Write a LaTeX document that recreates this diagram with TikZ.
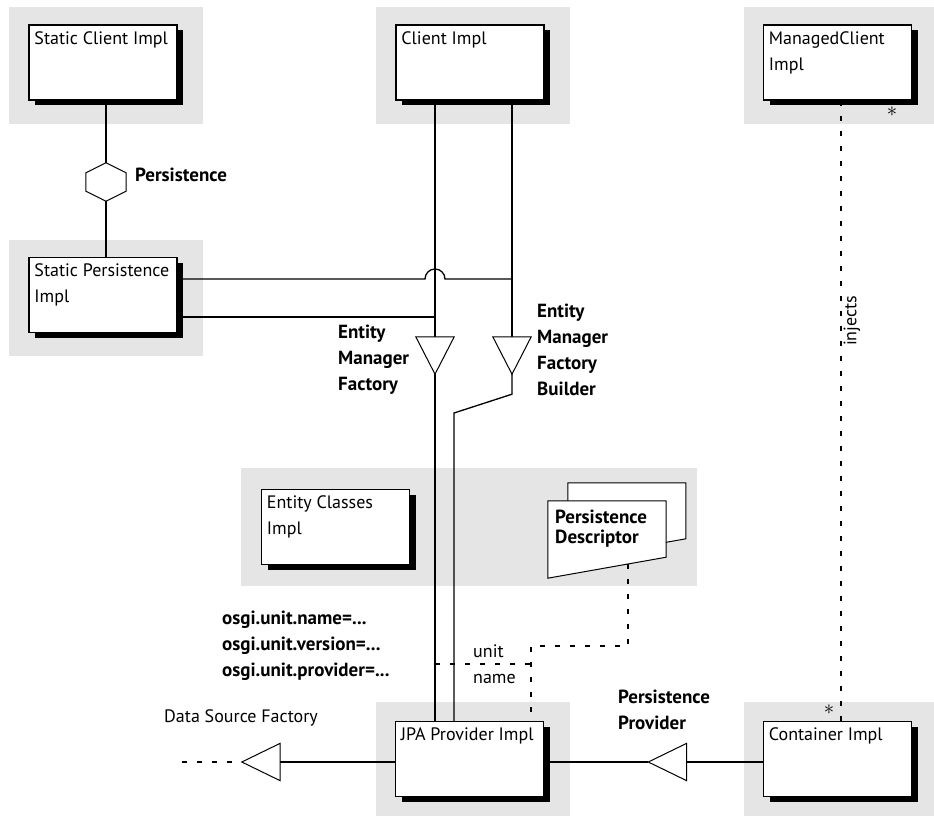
\documentclass[tikz,border=0pt]{standalone}
\usepackage{fontspec}
\setmainfont{PT Sans}
\usepackage{tikz}
\usetikzlibrary{positioning, shadows}

\definecolor{framegray}{RGB}{229,229,229}

\begin{document}
\begin{tikzpicture}[
    x=1pt, y=-1pt,
    every node/.style={font=\fontsize{18}{26}\selectfont},
    comp/.style={rectangle, draw, line width=1.5pt, fill=white,
                minimum width=148pt, minimum height=75pt,
                drop shadow={shadow xshift=6pt, shadow yshift=-5pt, fill=black, opacity=1}},
    ctext/.style={anchor=north west, align=left, inner sep=0pt, xshift=6pt, yshift=-7pt},
    frame/.style={fill=framegray},
    port/.style={rectangle, inner sep=0pt, minimum width=38pt, minimum height=37pt},
    sym/.style={draw, line width=1pt, fill=white},
    wire/.style={line width=1.3pt},
    dep/.style={line width=1.3pt, dash pattern=on 5pt off 10pt},
    lbl/.style={anchor=north west, align=left, inner sep=0pt,
                font=\fontsize{19}{26}\selectfont\bfseries},
    mult/.style={inner sep=0pt, font=\fontsize{20.74}{26}\selectfont}
  ]
  \useasboundingbox (0,0) rectangle (934,816);

  % Gray frames
  \fill[frame] (9,7) rectangle (203,124);
  \fill[frame] (376,7) rectangle (570,124);
  \fill[frame] (744,7) rectangle (934,124);
  \fill[frame] (9,240) rectangle (203,356);
  \fill[frame] (241,468) rectangle (697,586);
  \fill[frame] (376,702) rectangle (570,816);
  \fill[frame] (744,702) rectangle (934,816);

  % Components
  \node[comp, label={[ctext]north west:Static Client Impl}] (sci) at (103,62.5) {};
  \node[comp, label={[ctext]north west:Client Impl}] (ci) at (470,62.5) {};
  \node[comp, label={[ctext]north west:ManagedClient\\Impl}] (mci) at (837.5,62.5) {};
  \node[comp, label={[ctext]north west:Static Persistence\\Impl}] (spi) at (103,295) {};
  \node[comp, label={[ctext]north west:Entity Classes\\Impl}] (eci) at (335.5,527) {};
  \node[comp, label={[ctext]north west:JPA Provider Impl}] (jpa) at (469.5,759) {};
  \node[comp, label={[ctext]north west:Container Impl}] (cont) at (837.5,759) {};

  % Persistence descriptor
  \node[rectangle, inner sep=0pt, minimum width=118pt, minimum height=77pt] (pd) at (607,539.5) {};
  \filldraw[sym] ([xshift=20pt]pd.north west) -- ++(0,-18) -- ++(118,0) -- ++(0,56) -- ++(-118,21) -- cycle;
  \filldraw[sym] (pd.north west) -- (pd.north east) -- ([yshift=21pt]pd.south east) -- (pd.south west) -- cycle;
  \node[lbl, font=\fontsize{19}{20}\selectfont\bfseries] (pdlbl) at (555,510) {Persistence\\Descriptor};

  % Interface symbols
  \node[rectangle, inner sep=0pt, minimum width=40pt, minimum height=38pt] (hex) at (106,182) {};
  \node[port] (emf) at (435,355.5) {};
  \node[port] (emfb) at (512,355.5) {};
  \node[port] (dsf) at (261,762) {};
  \node[port] (pp) at (667.5,762) {};

  % Connections
  \draw[wire] (hex |- sci.south) -- (hex.north);
  \draw[wire] (hex.south) -- (hex |- spi.north);
  \draw[wire] (emf |- ci.south) -- (emf.north);
  \draw[wire] (emfb |- ci.south) -- (emfb.north);
  \draw[wire] (emf.south) -- (emf |- jpa.north);
  \coordinate (kink) at (454,413);
  \draw[wire] (emfb.south) -- ++(0,20) -- (kink) -- (kink |- jpa.north);

  \coordinate (spiA) at ([yshift=16pt]spi.east);
  \coordinate (spiB) at ([yshift=-22pt]spi.east);
  \coordinate (hop) at (spiA -| emf);
  \draw[wire] (spiA) -- ([xshift=-10pt]hop) arc (180:360:10) -- (spiA -| emfb);
  \draw[wire] (spiB) -- (spiB -| emf);

  \draw[wire] (dsf -| jpa.west) -- (dsf.east);
  \coordinate (dsfend) at (182,762);
  \draw[dep] (dsfend) -- (dsf.west);
  \draw[wire] (pp -| jpa.east) -- (pp.west);
  \draw[wire] (pp.east) -- (pp -| cont.west);

  \coordinate (pdfoot) at (628,564);
  \coordinate (unitcorner) at (531,646);
  \coordinate (unitjoin) at (531,664);
  \draw[dep] (pdfoot) |- (unitcorner) -- (unitcorner |- jpa.north);
  \draw[dep] (unitjoin -| emf) -- (unitjoin);

  \draw[dep] ([xshift=3.5pt]mci.south) -- ([xshift=3.5pt]cont.north)
    node[pos=0.355, rotate=90, anchor=north, inner sep=2pt] (injlbl) {injects};

  % Symbol outlines
  \draw[sym] (hex.north) -- ([yshift=-10pt]hex.north east) -- ([yshift=10pt]hex.south east)
    -- (hex.south) -- ([yshift=10pt]hex.south west) -- ([yshift=-10pt]hex.north west) -- cycle;
  \draw[sym] (emf.north west) -- (emf.north east) -- (emf.south) -- cycle;
  \draw[sym] (emfb.north west) -- (emfb.north east) -- (emfb.south) -- cycle;
  \draw[sym] (dsf.north east) -- (dsf.south east) -- (dsf.west) -- cycle;
  \draw[sym] (pp.north east) -- (pp.south east) -- (pp.west) -- cycle;

  % Labels
  \node[lbl] (perslbl) at (135,168) {Persistence};
  \node[lbl] (emflbl) at (338,325) {Entity\\Manager\\Factory};
  \node[lbl] (emfblbl) at (537,304) {Entity\\Manager\\Factory\\Builder};
  \node[lbl] (osgilbl) at (222,611) {osgi.unit.name=...\\osgi.unit.version=...\\osgi.unit.provider=...};
  \node[lbl] (pplbl) at (618,690) {Persistence\\Provider};
  \node[anchor=west, align=left, inner sep=0pt] (unitlbl) at (473,664) {unit\\name};
  \node[anchor=north west, inner sep=0pt] (dsflbl) at (164,709) {Data Source Factory};
  \node[mult] (mcistar) at (892,112) {$\ast$};
  \node[mult] (contstar) at (829,710) {$\ast$};

\end{tikzpicture}
\end{document}
